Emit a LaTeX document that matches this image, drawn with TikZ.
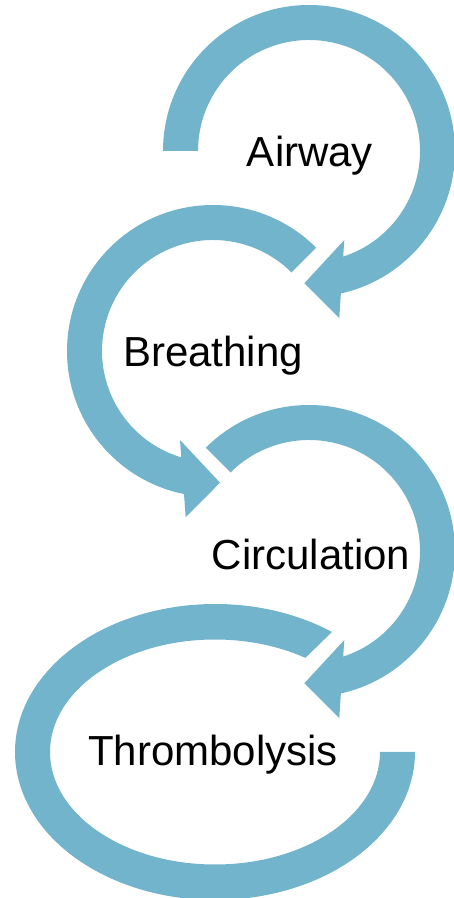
\documentclass[tikz,border=0pt]{standalone}
\usepackage{fontspec}
\setmainfont{Liberation Sans}
\usetikzlibrary{calc}
\definecolor{ringblue}{RGB}{115,180,205}
\begin{document}
\begin{tikzpicture}[x=1pt,y=1pt,
  ring/.style={fill=ringblue,draw=none},
  lbl/.style={anchor=base,inner sep=0pt,font=\fontsize{42}{50}\selectfont,text=black}]
\useasboundingbox (0,0) rectangle (454,898);
\coordinate (c1) at (309,747);
\coordinate (c2) at (213,547);
\coordinate (c3) at (309,347);
\coordinate (c4) at (215,146);
% ring 1 (Airway)
\fill[ring] ($(c1)+(180:146)$) arc[start angle=180,end angle=-77.4,radius=146pt]
  -- (339.3,579.7) -- (304.3,614.7) -- (344.3,658)
  -- ($(c1)+(-72.05:111)$) arc[start angle=-72.05,end angle=180,radius=111pt] -- cycle;
% ring 2 (Breathing)
\fill[ring] ($(c2)+(45:146)$) arc[start angle=45,end angle=258.54,radius=146pt]
  -- (185.7,380.7) -- (220,415.3) -- (180,458)
  -- ($(c2)+(253.4:111)$) arc[start angle=253.4,end angle=45,radius=111pt] -- cycle;
% ring 3 (Circulation)
\fill[ring] ($(c3)+(135:146)$) arc[start angle=135,end angle=-77.4,radius=146pt]
  -- (339.3,179.7) -- (304.3,214.7) -- (344.3,258)
  -- ($(c3)+(-72.05:111)$) arc[start angle=-72.05,end angle=135,radius=111pt] -- cycle;
% ring 4 (Thrombolysis)
\fill[ring] ($(c4)+(54.2:200 and 148)$) arc[start angle=54.2,end angle=360,x radius=200pt,y radius=148pt]
  -- ($(c4)+(0:165 and 112.5)$) arc[start angle=360,end angle=56.8,x radius=165pt,y radius=112.5pt] -- cycle;
% labels
\node[lbl] (airway) at (310,731) {Airway};
\node[lbl] (breathing) at (213,531) {Breathing};
\node[lbl] (circulation) at (311,328) {Circulation};
\node[lbl] (thrombolysis) at (213,132) {Thrombolysis};
\end{tikzpicture}
\end{document}
